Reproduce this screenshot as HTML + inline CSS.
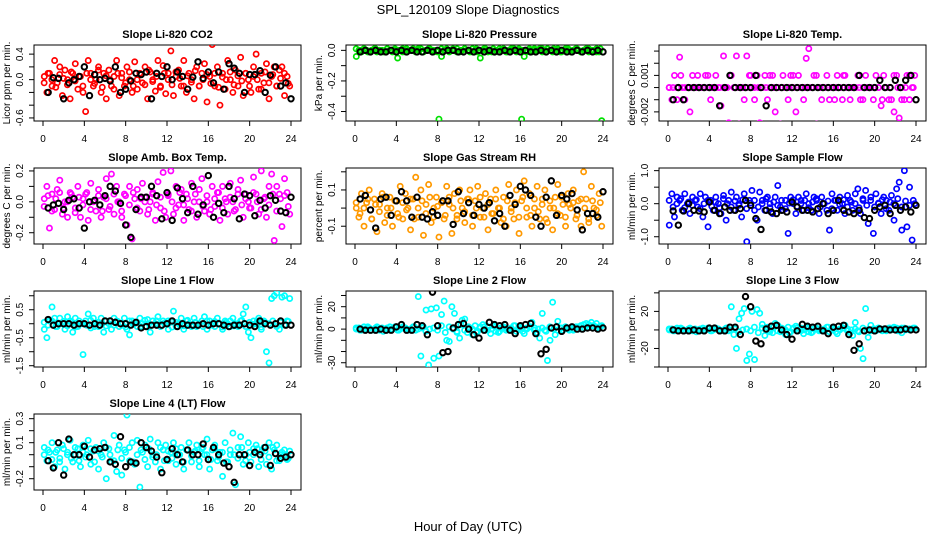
<!DOCTYPE html>
<html><head><meta charset="utf-8"><style>
html,body{margin:0;padding:0;background:#fff;}
svg{display:block;font-family:"Liberation Sans",sans-serif;}
</style></head><body>
<svg id="fig" width="936" height="540" viewBox="0 0 936 540" xmlns="http://www.w3.org/2000/svg">
<rect x="0" y="0" width="936" height="540" fill="#fff"/>
<text x="468" y="14" text-anchor="middle" font-size="13">SPL_120109  Slope Diagnostics</text>
<text x="468" y="531" text-anchor="middle" font-size="13">Hour of Day (UTC)</text>
</svg>
<script>
const xTicks=[0,4,8,12,16,20,24];
const co2C=[0.05,-0.2,0.1,-0.1,0.3,-0.05,0.2,-0.25,0.15,0.0,-0.3,0.1,0.25,-0.15,0.05,-0.2,-0.5,0.3,0.1,-0.1,0.0,0.2,-0.2,0.1,-0.3,0.15,-0.1,0.05,0.3,-0.25,0.1,-0.1,0.2,0.0,-0.2,0.28,-0.15,0.1,-0.05,0.2,-0.3,0.12,0.0,-0.18,0.3,-0.1,0.22,-0.22,0.1,0.45,-0.25,0.05,0.15,-0.1,0.3,-0.2,0.1,0.0,-0.3,0.2,-0.1,0.1,0.25,-0.35,0.05,0.55,-0.1,0.2,-0.4,0.1,-0.15,0.3,0.0,-0.2,0.15,-0.1,0.35,-0.25,0.1,0.0,-0.2,0.2,0.4,-0.15,0.1,-0.05,0.25,-0.3,0.05,0.2,-0.1,0.15,0.2,-0.25,0.05,-0.1];
const co2C2=[-0.05,0.1,0.0,-0.12,0.08,0.02,-0.08,0.12,-0.02,0.05,-0.1,0.1,0.0,-0.06,0.15,-0.12,0.06,0.0,-0.15,0.1,0.03,-0.05,0.12,-0.1,0.0,0.08,-0.08,0.15,-0.03,0.05,-0.12,0.1,0.0,-0.08,0.12,0.02,-0.1,0.06,-0.04,0.14,-0.1,0.0,0.08,-0.06,0.1,-0.12,0.04,0.0,0.12,-0.08,0.06,-0.02,0.1,-0.1,0.05,0.0,-0.15,0.12,-0.05,0.08,-0.1,0.02,0.1,-0.06];
const co2K=[-0.2,0.03,0.02,-0.3,-0.05,0.0,0.05,0.2,-0.25,0.08,0.0,0.02,-0.02,0.2,-0.2,-0.15,-0.02,0.1,0.08,0.12,-0.3,0.1,0.05,0.2,0.0,0.12,0.05,-0.15,0.04,0.28,0.02,0.12,-0.05,0.12,-0.15,0.25,0.18,0.1,-0.2,0.08,0.08,0.14,-0.2,0.07,0.2,-0.1,-0.05,-0.3];
const presC=[-0.04,0.0,-0.01,0.01,0.0,-0.01,0.0,0.01,-0.01,0.0,0.0,-0.01,0.01,0.0,-0.01,0.0,-0.05,0.0,0.01,-0.01,0.0,0.0,0.01,-0.01,0.0,0.01,-0.01,0.0,0.01,0.0,-0.01,0.0,-0.45,-0.04,0.0,0.01,-0.01,0.0,0.0,0.01,-0.01,0.0,0.01,0.0,-0.01,0.01,0.0,-0.01,-0.05,0.0,0.01,-0.01,0.0,0.01,0.0,-0.01,0.0,0.01,-0.01,0.0,0.0,0.01,-0.01,0.0,-0.45,-0.04,0.0,0.01,-0.01,0.0,0.0,0.01,-0.01,0.0,0.01,0.0,-0.01,0.0,0.01,-0.01,0.0,0.0,0.01,-0.01,0.0,0.01,0.0,-0.01,0.0,0.01,-0.01,0.0,0.0,0.01,-0.01,-0.46];
const presC2=[0.01,0,0.01,-0.01,0,0.01,0,-0.01,0.01,0,0.01,0,-0.01,0.01,0,0,0.01,-0.01,0,0.01,0,-0.01,0.01,0,0,0.01,-0.01,0,0.01,0,-0.01,0.01,0,0.01,0,-0.01,0,0.01,0,-0.01,0.01,0,0.01,0,-0.01,0,0.01,0,0.01,-0.01,0,0.01,0,-0.01,0.01,0,0,0.01,-0.01,0,0.01,0,-0.01,0.01];
const presK=[-0.01,0,-0.01,0,-0.01,-0.01,0,-0.01,0,-0.01,0,-0.01,-0.01,0,-0.01,0,-0.01,0,0,-0.01,-0.01,0,-0.01,0,-0.01,0,-0.01,-0.01,0,-0.01,0,-0.01,0,-0.01,-0.01,0,-0.01,0,-0.01,0,-0.01,-0.01,0,-0.01,0,-0.01,0,-0.01];
const tempC=[0,-0.001,0.001,-0.001,0.0025,0,-0.001,0,-0.002,0.001,0,0.001,0,0,0.001,0,-0.001,0,0.001,0,-0.0015,0.0026,0,-0.0029,0.001,0,0.0026,-0.003,0,-0.001,0.0026,0.001,0,-0.001,0.001,-0.0029,0,0.001,-0.001,0,0.001,-0.002,0,-0.003,0.001,0,-0.001,0.001,0,-0.002,0.001,0,-0.001,0.0024,0.0032,0,0.001,-0.003,0,-0.001,0,0.001,-0.001,0,-0.001,0.001,0,-0.001,0.001,0,-0.001,0,0,0.001,-0.001,0,0.001,0,0,-0.001,0.001,0,-0.0015,0.001,0,-0.001,-0.001,-0.002,0.001,-0.0025,0,-0.001,0.001,-0.001,0,0.001];
const tempC2=[0,0,0,0.001,0,0,0,0,0,0,0.001,0,0,0,0,0,0.001,0,0,0,0,0.001,0,0,0,0,0.001,0,0,0,0,0,0.001,0,0,0,0,0,0.001,0,0,0,0,0,0,0.001,0,0,0,0,-0.001,0,0,0,0,-0.001,0,0,0.001,0,-0.001,0,0.001,0];
const tempK=[-0.001,0,-0.001,0,0,0,0,0,0,-0.0015,0,0.001,0,0,0,0,0.001,0,-0.0015,0,0,0,0,0,0,0,0,0,0,0,0,0,0,0,0,0,0.001,0,0,0,0.0006,0,0,0.0006,0,0.0006,0.001,-0.001];
const ambC=[0.02,0.1,-0.17,0.05,-0.05,0.08,0.14,-0.08,0.0,-0.1,0.06,0.03,-0.04,0.1,-0.1,0.02,0.05,-0.12,0.12,0.0,-0.06,0.08,-0.1,0.03,0.15,-0.05,0.18,-0.08,0.1,0.0,-0.1,0.05,-0.15,0.1,-0.24,0.02,0.08,-0.06,0.12,0.03,-0.08,0.0,0.06,-0.12,0.13,-0.04,0.19,-0.1,0.05,0.2,-0.08,0.1,-0.02,0.08,-0.12,0.05,-0.05,0.12,0.0,-0.1,0.08,0.15,-0.06,0.0,-0.08,0.1,-0.03,0.06,-0.12,0.1,0.02,-0.08,0.12,0.0,-0.05,0.08,0.14,-0.1,0.05,0.0,-0.04,0.16,0.05,-0.08,0.2,0.02,-0.1,0.1,0.18,-0.25,0.1,0.05,-0.16,0.15,0.06,-0.08];
const ambC2=[-0.03,0.04,-0.06,0.02,0.06,-0.04,0.0,0.05,-0.07,0.03,-0.02,0.06,-0.05,0.01,0.04,-0.06,0.02,-0.03,0.05,0.0,-0.06,0.04,-0.02,0.06,-0.04,0.02,0.0,-0.05,0.05,-0.02,0.03,-0.06,0.04,0.0,-0.04,0.06,-0.02,0.02,-0.06,0.05,0.0,-0.03,0.04,-0.05,0.02,0.06,-0.04,0.0,0.03,-0.06,0.05,-0.02,0.02,-0.04,0.06,0.0,-0.05,0.03,-0.02,0.05,-0.06,0.02,0.04,-0.03];
const ambK=[-0.04,-0.02,-0.01,-0.05,0.01,0.02,-0.04,-0.17,0.0,0.01,-0.02,0.04,0.1,0.07,-0.01,-0.15,-0.23,-0.05,0.03,0.03,0.1,0.04,-0.11,0.06,-0.12,0.09,0.02,-0.07,0.1,-0.08,-0.02,0.17,-0.1,-0.01,-0.07,0.1,0.02,-0.11,0.05,0.04,-0.09,0.01,-0.04,0.04,0.01,-0.06,-0.07,0.03];
const rhC=[0.0,-0.05,0.08,-0.1,0.03,0.1,-0.06,0.05,-0.13,0.02,0.08,-0.08,0.0,0.06,-0.1,0.04,-0.03,0.12,-0.06,0.08,0.0,-0.12,0.05,0.17,-0.05,0.1,-0.15,0.02,0.13,-0.08,0.0,0.06,-0.16,0.03,-0.06,0.12,0.02,-0.14,0.08,-0.04,0.1,0.0,-0.08,0.05,0.1,-0.1,0.04,0.12,-0.05,0.0,0.08,-0.12,0.05,-0.03,0.1,0.0,-0.08,0.06,-0.1,0.13,0.0,-0.06,0.1,-0.14,0.04,0.15,-0.05,0.08,-0.1,0.0,0.12,-0.06,0.05,0.1,-0.08,0.0,-0.12,0.06,0.13,-0.04,0.02,-0.1,0.08,0.0,0.1,-0.06,0.04,-0.1,0.2,0.05,-0.08,0.12,0.0,-0.04,0.08,-0.1];
const rhC2=[0.03,-0.03,0.0,0.05,-0.06,0.02,-0.02,0.06,-0.04,0.0,0.04,-0.05,0.03,-0.01,0.05,-0.06,0.0,0.04,-0.03,0.06,-0.05,0.01,0.03,-0.04,0.06,0.0,-0.06,0.04,-0.02,0.05,-0.04,0.0,0.06,-0.05,0.02,-0.03,0.05,0.0,-0.06,0.04,-0.02,0.03,-0.05,0.06,0.0,-0.04,0.05,-0.02,0.02,-0.06,0.04,0.0,-0.03,0.06,-0.05,0.02,0.03,-0.04,0.05,0.0,-0.06,0.04,-0.01,0.03];
const rhK=[0.05,0.07,-0.01,-0.11,0.05,0.06,-0.04,0.04,0.09,0.04,-0.05,0.06,-0.05,-0.06,-0.02,-0.04,0.04,0.04,-0.09,0.09,-0.03,0.03,-0.04,0.02,0.0,0.03,-0.07,-0.03,-0.1,0.07,0.02,0.12,0.1,0.07,-0.05,-0.1,0.06,0.15,-0.04,0.07,0.05,0.08,-0.01,-0.12,-0.03,-0.03,-0.05,0.09];
const flowC=[-0.65,0.3,-0.4,0.2,0.1,-0.2,0.3,0.0,-0.3,0.2,0.1,-0.1,0.3,-0.4,0.2,-0.7,0.1,-0.2,0.2,0.0,-0.3,0.25,-0.5,0.1,0.35,-0.2,0.2,0.0,-0.4,0.3,-1.15,0.1,0.4,-0.2,-0.5,0.35,0.1,-0.2,0.2,0.0,-0.3,0.2,0.55,-0.1,-0.2,0.1,-0.9,0.2,0.0,-0.3,0.2,0.1,-0.2,0.3,0.0,-0.2,0.2,0.1,-0.3,0.2,0.0,-0.2,-0.8,0.3,0.1,-0.2,0.2,0.0,-0.3,0.25,0.1,-0.2,0.3,0.45,-0.3,0.1,0.4,-0.6,0.2,-0.9,0.3,0.0,-0.3,0.2,0.1,-0.2,0.25,-0.5,0.45,0.65,-0.8,1.0,-0.7,0.5,-1.1,0.0];
const flowC2=[0.1,-0.1,0.0,0.15,-0.12,0.05,-0.05,0.12,-0.15,0.0,0.1,-0.08,0.05,-0.12,0.15,0.0,-0.1,0.08,-0.05,0.12,-0.15,0.02,0.1,-0.1,0.0,0.15,-0.12,0.05,-0.05,0.1,-0.15,0.02,0.12,-0.08,0.0,0.1,-0.12,0.05,0.15,-0.1,0.0,0.08,-0.15,0.1,-0.02,0.12,-0.1,0.05,0.0,-0.12,0.15,-0.05,0.1,-0.1,0.02,0.12,-0.15,0.05,0.0,0.15,-0.1,0.08,-0.05,0.1];
const flowK=[-0.22,-0.65,-0.22,0.0,-0.2,-0.22,-0.25,0.05,-0.2,-0.3,-0.1,-0.2,-0.2,-0.15,0.1,-0.05,-0.45,-0.78,-0.2,-0.25,-0.3,-0.2,-0.25,0.05,-0.1,-0.2,-0.2,-0.25,-0.15,0.0,-0.3,-0.2,0.1,-0.2,-0.25,-0.3,-0.2,-0.42,-0.45,-0.2,-0.1,-0.05,-0.3,-0.05,-0.2,-0.1,-0.25,-0.05];
const l1C=[-0.2,-0.5,0.1,0.6,0.2,-0.1,0.2,0.0,-0.2,0.25,0.1,-0.3,0.2,-0.1,0.0,-1.1,0.1,0.35,-0.15,0.2,0.0,-0.1,0.2,-0.3,0.1,0.0,-0.2,0.2,0.1,-0.1,0.0,0.2,-0.2,-0.4,0.1,0.0,-0.1,0.2,0.0,-0.1,0.15,-0.3,0.1,0.0,0.25,-0.1,0.1,0.0,-0.2,0.1,0.45,-0.1,0.0,0.2,-0.2,0.1,0.0,-0.1,0.2,-0.1,0.0,0.1,0.25,-0.2,0.1,0.0,-0.1,0.2,0.0,-0.2,0.1,0.0,-0.1,0.2,0.0,-0.1,0.1,0.35,0.6,-0.3,-0.5,0.1,0.0,0.2,-0.2,0.1,-1.0,-1.4,0.9,1.0,1.1,-0.2,0.95,1.0,0.1,0.9];
const l1C2=[0.05,-0.05,0.1,-0.1,0.0,0.08,-0.08,0.05,-0.12,0.1,0.0,-0.05,0.12,-0.1,0.05,0.0,-0.08,0.1,-0.05,0.08,0.0,-0.12,0.1,-0.02,0.05,-0.1,0.12,0.0,-0.05,0.1,-0.08,0.02,0.1,-0.12,0.05,0.0,-0.08,0.12,-0.05,0.05,0.0,-0.1,0.1,-0.05,0.08,0.0,-0.12,0.05,0.1,-0.08,0.0,0.12,-0.1,0.05,-0.02,0.1,-0.12,0.05,0.0,0.1,-0.1,0.05,-0.05,0.08];
const l1K=[0.15,-0.05,0.0,0.0,0.0,-0.05,0.0,0.0,-0.05,0.0,-0.05,0.1,0.1,0.05,0.0,0.0,-0.05,0.05,-0.15,-0.1,-0.05,-0.05,-0.05,0.0,0.1,-0.1,0.0,-0.05,-0.05,-0.05,0.0,-0.05,0.0,0.0,-0.05,-0.1,-0.05,-0.05,0.0,-0.05,-0.1,0.1,0.0,-0.05,0.0,0.1,-0.05,-0.05];
const l2C=[0,1,-1,2,0,1,-1,0,2,-1,1,0,-1,2,0,1,-1,0,2,1,-1,0,2,-1,29,-24,2,17,-32,18,-26,19,-24,13,25,-10,-11,20,14,-3,-8,8,9,-3,1,-5,3,-2,2,4,-1,2,-4,3,-2,-3,1,2,-1,0,1,3,-2,2,1,-4,0,2,6,1,-3,-8,14,-1,-28,-10,24,-5,7,1,-1,2,0,1,-1,2,0,3,4,5,4,6,3,5,2,3];
const l2C2=[1,-1,0,2,-1,1,0,-2,1,0,2,-1,1,0,-1,2,0,1,-2,0,1,-1,3,-3,2,0,-2,4,-1,2,0,-3,1,2,-1,0,2,-2,1,0,-1,3,0,-2,1,2,-1,0,1,-2,2,0,-1,1,2,-1,0,2,3,1,2,3,1,2];
const l2K=[0,-1,-1,-1,0,-1,-1,2,4,-1,-1,4,3,-5,33,3,-21,-20,1,4,5,0,-5,-8,-1,6,4,3,4,-1,-4,3,4,5,-4,-22,-18,1,2,-2,1,2,0,0,1,1,0,1];
const l3C=[0,1,-1,2,0,1,-1,0,2,-1,1,0,-1,2,0,1,-1,0,2,1,-1,0,2,-1,25,-5,-20,12,18,23,-33,-26,20,-32,22,18,6,-6,3,0,-3,7,5,-2,1,-5,3,-2,2,4,-1,2,-4,3,-2,-3,1,2,-1,0,1,3,-2,2,1,-4,0,2,5,1,-3,-6,8,-1,-20,-31,23,-8,5,1,-1,2,0,1,-1,2,0,3,2,1,-3,2,1,0,1,2];
const l3C2=[1,-1,0,2,-1,1,0,-2,1,0,2,-1,1,0,-1,2,0,1,-2,0,1,-1,3,-3,2,0,-2,4,-1,2,0,-3,1,2,-1,0,2,-2,1,0,-1,3,0,-2,1,2,-1,0,1,-2,2,0,-1,1,2,-1,0,2,1,-1,2,0,1,2];
const l3K=[0,-1,-1,-1,0,-1,-1,2,2,-1,-1,3,3,-5,36,25,-12,-15,1,4,5,0,-5,-10,-1,6,4,3,4,-1,-4,3,4,5,-5,-22,-15,-1,0,-1,1,1,0,0,0,1,0,0];
const l4C=[0.06,-0.05,0.02,0.1,-0.1,0.04,-0.03,0.08,-0.12,0.02,0.12,-0.06,0.0,0.05,-0.1,0.08,-0.02,0.12,-0.08,0.03,0.06,-0.12,0.0,0.1,-0.2,0.05,-0.06,0.16,-0.14,0.08,-0.17,0.04,0.33,-0.05,0.1,-0.08,0.12,-0.27,0.02,0.08,-0.1,0.13,0.0,-0.06,0.1,-0.12,0.04,0.08,-0.05,0.02,0.1,-0.08,0.0,0.06,-0.12,0.04,0.1,-0.06,0.02,0.08,-0.1,0.05,0.0,0.13,-0.12,0.04,0.08,-0.05,0.02,-0.18,0.1,-0.06,0.0,0.18,-0.25,0.06,0.15,-0.08,0.0,0.1,-0.06,0.05,0.08,-0.1,0.02,0.06,-0.08,0.1,-0.12,0.04,0.08,-0.05,0.02,0.0,-0.04,0.03];
const l4C2=[0.0,0.04,-0.04,0.02,-0.06,0.05,0.0,-0.03,0.06,-0.05,0.02,0.0,0.05,-0.06,0.03,-0.02,0.06,0.0,-0.05,0.04,-0.03,0.02,0.06,-0.06,0.0,0.04,-0.04,0.05,-0.02,0.0,0.06,-0.05,0.03,-0.03,0.05,0.0,-0.06,0.04,-0.01,0.03,-0.05,0.06,0.0,-0.04,0.05,-0.02,0.02,-0.06,0.04,0.0,-0.03,0.06,-0.05,0.02,0.0,0.05,-0.04,0.03,-0.02,0.06,-0.05,0.0,0.04,-0.03];
const l4K=[-0.05,-0.11,0.1,-0.17,0.13,0.0,0.0,0.07,-0.02,0.04,0.05,0.06,-0.06,-0.08,0.15,-0.1,-0.06,-0.07,0.1,0.06,0.03,-0.02,-0.15,-0.04,0.05,0.0,-0.06,0.04,0.0,0.0,0.09,-0.04,0.06,0.0,-0.07,-0.1,-0.23,0.0,0.0,-0.09,0.02,0.0,0.06,-0.09,0.01,-0.03,-0.02,0.0];
const titles=["Slope Li-820 CO2","Slope Li-820 Pressure","Slope Li-820 Temp.","Slope Amb. Box Temp.","Slope Gas Stream RH","Slope Sample Flow","Slope Line 1 Flow","Slope Line 2 Flow","Slope Line 3 Flow","Slope Line 4 (LT) Flow"];
const yLabels=["Licor ppm per min.","kPa per min.","degrees C per min.","degrees C per min.","percent per min.","ml/min per min.","ml/min per min.","ml/min per min.","ml/min per min.","ml/min per min."];
const yTicks=[[-0.6,-0.4,-0.2,0,0.2,0.4],[-0.4,-0.3,-0.2,-0.1,0],[-0.002,-0.001,0,0.001,0.002,0.003],[-0.2,-0.1,0,0.1,0.2],[-0.1,0,0.1,0.2],[-1,-0.5,0,0.5,1],[-1.5,-1,-0.5,0,0.5,1],[-30,-20,-10,0,10,20,30],[-40,-20,0,20,40],[-0.2,-0.1,0,0.1,0.2,0.3]];
const yTickLabels=[{"0.4":"0.4","0":"0.0","-0.6":"-0.6"},{"0":"0.0","-0.2":"-0.2","-0.4":"-0.4"},{"0.001":"0.001","-0.002":"-0.002"},{"0.2":"0.2","0":"0.0","-0.2":"-0.2"},{"0.1":"0.1","-0.1":"-0.1"},{"1":"1.0","0":"0.0","-1":"-1.0"},{"0.5":"0.5","-0.5":"-0.5","-1.5":"-1.5"},{"20":"20","0":"0","-30":"-30"},{"20":"20","-20":"-20"},{"0.3":"0.3","0.1":"0.1","-0.2":"-0.2"}];
const colorSeries=[co2C,presC,tempC,ambC,rhC,flowC,l1C,l2C,l3C,l4C];
const colorSeries2=[co2C2,presC2,tempC2,ambC2,rhC2,flowC2,l1C2,l2C2,l3C2,l4C2];
const blackSeries=[co2K,presK,tempK,ambK,rhK,flowK,l1K,l2K,l3K,l4K];
const colors=["#ff0000","#00e000","#ff00ff","#ff00ff","#ff9900","#0000ff","#00ffff","#00ffff","#00ffff","#00ffff"];
const yLims=[[-0.648,0.543],[-0.462,0.035],[-0.00275,0.0035],[-0.273,0.219],[-0.198,0.221],[-1.22,1.08],[-1.546,1.17],[-33.8,34],[-40,42],[-0.294,0.339]];
const colLeft=[34,346,659], rowTop=[45,168,291,414], W=267, H=76;
const NS="http://www.w3.org/2000/svg", svg=document.getElementById('fig');
function mk(tag,attrs,parent){const e=document.createElementNS(NS,tag);for(const k in attrs)e.setAttribute(k,attrs[k]);(parent||svg).appendChild(e);return e;}
titles.forEach((t,p)=>{
  const L=colLeft[p%3],T=rowTop[Math.floor(p/3)],B=T+H,R=L+W;
  const [y0,y1]=yLims[p];
  const xs=h=>L+9+h*(W-19)/24;
  const ys=v=>B-(v-y0)/(y1-y0)*H;
  const g=mk('g',{});
  
  
  const cp=mk('clipPath',{id:'cp'+p},g);mk('rect',{x:L,y:T,width:W,height:H},cp);
  const tt=mk('text',{x:L+W/2,y:T-7,'text-anchor':'middle','font-size':'11','font-weight':'bold'},g);tt.textContent=t;
  
  
  const box=mk('rect',{x:L,y:T,width:W,height:H,fill:'none',stroke:'#000','stroke-width':1},g);
  
  
  const xa=mk('g',{},g);
  
  
  mk('line',{x1:xs(0),x2:xs(24),y1:B,y2:B,stroke:'#000'},xa);
  xTicks.forEach(h=>{mk('line',{x1:xs(h),x2:xs(h),y1:B,y2:B+5,stroke:'#000'},xa);
    const l=mk('text',{x:xs(h),y:B+21,'text-anchor':'middle','font-size':'10'},xa);l.textContent=h;
    
    });
  const ya=mk('g',{},g);
  
  
  const tk=yTicks[p];
  mk('line',{x1:L,x2:L,y1:ys(tk[0]),y2:ys(tk[tk.length-1]),stroke:'#000'},ya);
  tk.forEach(v=>{mk('line',{x1:L-5,x2:L,y1:ys(v),y2:ys(v),stroke:'#000'},ya);
    const s=yTickLabels[p][String(v)];
    if(s!==undefined){const l=mk('text',{x:0,y:0,'text-anchor':'middle','font-size':'10',transform:`translate(${L-11},${ys(v)}) rotate(-90)`},ya);l.textContent=s;
      
      }});
  const yl=mk('text',{x:0,y:0,'text-anchor':'middle','font-size':'10',transform:`translate(${L-24},${T+H/2}) rotate(-90)`},g);yl.textContent=yLabels[p];
  
  
  const pg=mk('g',{'clip-path':`url(#cp${p})`,fill:'none'},g);
  const cs=colorSeries[p];
  cs.forEach((v,i)=>{const c=mk('circle',{cx:xs((i+0.5)*24/cs.length),cy:ys(v),r:2.6,stroke:colors[p],'stroke-width':1.7},pg);
    
    });
  const cs2=colorSeries2[p];
  cs2.forEach((v,i)=>{const c=mk('circle',{cx:xs((i+0.3)*24/cs2.length),cy:ys(v),r:2.6,stroke:colors[p],'stroke-width':1.7},pg);
    
    });
  const ks=blackSeries[p];
  ks.forEach((v,i)=>{const c=mk('circle',{cx:xs((i+1)*24/ks.length),cy:ys(v),r:2.7,stroke:'#000','stroke-width':2},pg);
    
    });
});
</script>
</body></html>
